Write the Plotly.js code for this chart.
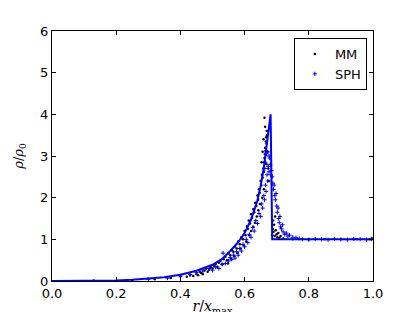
<!DOCTYPE html>
<html><head><meta charset="utf-8">
<script src="https://cdn.plot.ly/plotly-3.0.1.min.js"></script>
<style>html,body{margin:0;padding:0;background:#fff}#c{width:415px;height:312px}</style>
</head><body><div id="c"></div>
<script>
// analytic solution
const lineX = [0.0, 0.1, 0.2, 0.25, 0.3, 0.35, 0.4, 0.45, 0.5, 0.53, 0.555, 0.58, 0.6, 0.62, 0.64, 0.65, 0.66, 0.67, 0.681, 0.686, 1.0];
const lineY = [0.0, 0.003, 0.015, 0.03, 0.055, 0.09, 0.15, 0.245, 0.39, 0.53, 0.72, 0.93, 1.15, 1.47, 1.93, 2.28, 2.72, 3.28, 4.0, 1.0, 1.0];

// MM particles
const mmX = [0.13,0.25,0.32,0.37,0.40,0.42,0.43,0.44,0.45,0.455,0.46,0.465,0.47,0.475,0.48,0.485,0.49,0.495,0.50,0.505,0.51,0.515,0.52,0.525,0.53,0.535,0.54,0.545,0.55,0.555,0.56,0.565,0.57,0.575,0.58,0.585,0.59,0.595,0.60,0.603,0.607,0.61,0.613,0.617,0.62,0.623,0.627,0.63,0.633,0.636,0.64,0.642,0.645,0.647,0.65,0.652,0.654,0.656,0.658,0.66,0.661,0.662,0.663,0.664,0.665,0.666,0.667,0.668,0.669,0.67,0.662,0.664,0.659,0.656,0.653,0.668,0.672,0.674,0.676,0.66,0.655,0.648,0.643,0.638,0.632,0.627,0.62,0.614,0.605,0.598,0.588,0.578,0.568,0.558,0.548,0.686,0.688,0.689,0.69,0.692,0.694,0.695,0.697,0.70,0.702,0.705,0.708,0.712,0.72,0.75,0.80,0.85,0.90,0.95,0.99,1.0];
const mmY = [0.01,0.02,0.04,0.07,0.11,0.10,0.14,0.12,0.17,0.14,0.22,0.19,0.16,0.25,0.29,0.22,0.27,0.33,0.30,0.36,0.41,0.34,0.44,0.48,0.40,0.52,0.58,0.50,0.66,0.62,0.74,0.70,0.83,0.78,0.95,0.88,1.05,1.00,1.20,1.10,1.32,1.25,1.45,1.38,1.60,1.52,1.72,1.65,1.88,1.80,2.05,1.95,2.20,2.12,2.40,2.30,2.55,2.48,2.70,2.62,2.85,2.95,3.05,3.20,3.12,3.35,3.45,3.30,3.60,3.50,3.92,3.70,3.40,3.10,2.85,2.80,3.10,2.70,2.40,2.20,2.00,1.85,1.70,1.55,1.40,1.30,1.20,1.10,0.95,0.85,0.78,0.68,0.60,0.52,0.42,1.10,1.25,1.45,1.18,1.35,1.08,1.55,1.22,1.12,1.05,1.15,1.04,1.08,1.02,1.00,1.00,1.00,1.00,1.00,1.00,1.02];

// SPH particles
const sphX = [0.30,0.36,0.40,0.43,0.45,0.47,0.49,0.50,0.51,0.52,0.53,0.533,0.54,0.55,0.555,0.56,0.565,0.57,0.575,0.58,0.585,0.59,0.595,0.60,0.605,0.61,0.615,0.62,0.625,0.63,0.635,0.64,0.645,0.65,0.653,0.656,0.66,0.662,0.665,0.667,0.67,0.672,0.674,0.676,0.678,0.68,0.668,0.672,0.665,0.663,0.676,0.682,0.684,0.686,0.688,0.69,0.692,0.694,0.696,0.698,0.70,0.702,0.704,0.706,0.708,0.71,0.712,0.715,0.718,0.72,0.725,0.73,0.735,0.74,0.75,0.76,0.77,0.78,0.80,0.82,0.84,0.86,0.88,0.90,0.92,0.94,0.96,0.98,0.995];
const sphY = [0.04,0.07,0.12,0.16,0.20,0.24,0.30,0.26,0.33,0.30,0.40,0.67,0.42,0.48,0.56,0.52,0.62,0.55,0.70,0.62,0.78,0.72,0.88,0.82,1.00,0.92,1.12,1.05,1.28,1.20,1.45,1.38,1.62,1.55,1.85,1.75,2.05,1.95,2.30,2.15,2.55,2.40,2.75,2.62,2.95,2.80,3.05,3.10,2.85,2.70,3.00,2.55,2.65,2.50,2.35,2.20,2.30,2.05,1.95,2.10,1.80,1.65,1.75,1.50,1.40,1.55,1.30,1.25,1.35,1.18,1.12,1.15,1.08,1.10,1.05,1.04,1.02,1.00,0.99,1.01,1.00,0.99,1.01,1.00,0.99,1.01,1.00,0.99,1.01];

const seriesNames = ['MM', 'SPH'];
const xTicks = [0, 0.2, 0.4, 0.6, 0.8, 1.0];
const xTickText = ['0.0', '0.2', '0.4', '0.6', '0.8', '1.0'];
const yTicks = [0, 1, 2, 3, 4, 5, 6];

const traces = [
  {x: mmX, y: mmY, mode: 'markers', name: seriesNames[0], type: 'scatter',
   marker: {color: '#000000', size: 2.5, symbol: 'circle'}},
  {x: sphX, y: sphY, mode: 'markers', name: seriesNames[1], type: 'scatter',
   marker: {color: '#0000ff', size: 3, symbol: 'cross-thin', line: {color: '#0000ff', width: 1}}},
  {x: lineX, y: lineY, mode: 'lines', type: 'scatter', showlegend: false,
   line: {color: '#0000ff', width: 2}}
];

const axisCommon = {
  showgrid: false, zeroline: false, showline: true, linecolor: '#000', linewidth: 1,
  mirror: 'allticks', ticks: 'inside', ticklen: 4, tickwidth: 1, tickcolor: '#000',
  tickfont: {family: 'DejaVu Sans', size: 13, color: '#000'}
};

const layout = {
  width: 415, height: 312,
  margin: {l: 52, r: 42, t: 31, b: 31, pad: 0},
  paper_bgcolor: '#fff', plot_bgcolor: '#fff',
  showlegend: true,
  legend: {x: 0.981, y: 0.972, xanchor: 'right', yanchor: 'top',
           bordercolor: '#000', borderwidth: 1, bgcolor: '#fff',
           font: {family: 'DejaVu Sans', size: 13, color: '#000'},
           itemwidth: 30, tracegroupgap: 0},
  xaxis: Object.assign({}, axisCommon, {
    range: [0, 1], tickvals: xTicks, ticktext: xTickText, automargin: false,
    title: {text: '<i>r</i>/<i>x</i><sub>max</sub>',
            font: {family: 'DejaVu Serif', size: 14, color: '#000'}}
  }),
  yaxis: Object.assign({}, axisCommon, {
    range: [0, 6], tickvals: yTicks, automargin: false,
    title: {text: '<i>ρ</i>/<i>ρ</i><sub>0</sub>',
            font: {family: 'DejaVu Serif', size: 13, color: '#000'}}
  })
};

Plotly.newPlot('c', traces, layout, {staticPlot: true, displayModeBar: false}).then(function () {
  // nudge axis titles toward the reference positions
  const xt = document.querySelector('.g-xtitle text');
  if (xt) xt.setAttribute('transform', 'translate(0,4)');
  const yt = document.querySelector('.g-ytitle text');
  if (yt) {
    const t = yt.getAttribute('transform') || '';
    yt.setAttribute('transform', 'translate(7,0) ' + t);
  }
});
</script>
</body></html>
